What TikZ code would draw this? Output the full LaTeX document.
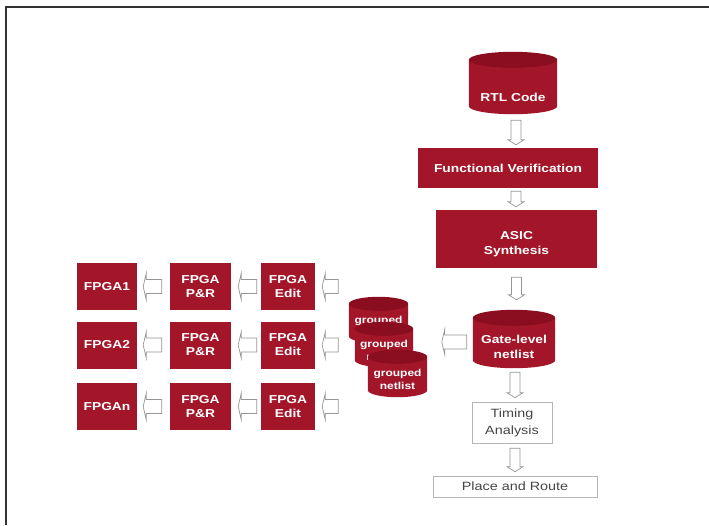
\documentclass[tikz,border=0pt]{standalone}
\usepackage{fontspec}
\setmainfont{Liberation Sans}[FakeStretch=1.2]
\usetikzlibrary{calc}
\definecolor{dred}{RGB}{163,22,42}
\definecolor{dredtop}{RGB}{138,14,32}
\definecolor{agray}{RGB}{150,150,150}
\definecolor{tgray}{RGB}{70,70,70}
\tikzset{
  redbox/.style={rectangle, fill=dred, text=white, font=\bfseries\fontsize{11.5}{14}\selectfont, align=center, inner sep=0pt},
  canbox/.style={rectangle, inner sep=0pt},
  cantext/.style={text=white, font=\bfseries\fontsize{11.5}{15}\selectfont, align=center, inner sep=0pt},
  gtext/.style={text=white, font=\bfseries\fontsize{10}{13}\selectfont, align=center, inner sep=0pt},
  whitebox/.style={rectangle, draw=agray!70, line width=0.6pt, fill=white, text=tgray, font=\fontsize{12}{17}\selectfont, align=center, inner sep=0pt},
  barrow/.style={draw=agray, line width=0.7pt, fill=white, line join=miter},
}
% can shape drawn over a named rectangle node: #1 = cap half height, #2 = node
\newcommand\candraw[2][8]{%
  \fill[dred] let \p1=(#2.north west), \p2=(#2.south east), \n1={(\x2-\x1)/2} in
    (\x1,{\y1-#1pt}) -- (\x1,{\y2+#1pt}) arc[start angle=180, end angle=360, x radius=\n1, y radius=#1pt]
    -- (\x2,{\y1-#1pt}) -- cycle;
  \fill[dredtop] let \p1=(#2.north west), \p2=(#2.south east), \n1={(\x2-\x1)/2} in
    ({(\x1+\x2)/2},{\y1-#1pt}) ellipse[x radius=\n1, y radius=#1pt];}
\newcommand\downarr[2]{\draw[barrow] let \p1=#1, \p2=#2 in
  (\x1-5pt,\y1) -- (\x1-5pt,\y2+5pt) -- (\x1-8pt,\y2+5pt) -- (\x1,\y2) -- (\x1+8pt,\y2+5pt) -- (\x1+5pt,\y2+5pt) -- (\x1+5pt,\y1) -- cycle;}
\newcommand\leftarr[2]{\draw[barrow] let \p1=#1, \p2=#2 in
  (\x2,\y2) -- (\x2+3pt,\y2+13pt) -- (\x2+3pt,\y2+7pt) -- (\x1,\y2+7pt) -- (\x1,\y2-7pt) -- (\x2+3pt,\y2-7pt) -- (\x2+3pt,\y2-13pt) -- cycle;}
\begin{document}
\begin{tikzpicture}[x=1pt,y=-1pt]
\useasboundingbox (0,0) rectangle (709,525);
\fill[white] (0,0) rectangle (709,525);
\draw[line width=1.5pt, black!80] (6,525) -- (6,7) -- (709,7);

% right column
\node[canbox, minimum width=88pt, minimum height=62pt] (rtl) at (513,83) {};
\candraw{rtl}
\node[cantext] (rtlt) at ($(rtl.center)+(0,14)$) {RTL Code};
\node[redbox, minimum width=180pt, minimum height=40pt] (fv) at (508,168) {Functional Verification};
\node[redbox, minimum width=161pt, minimum height=58pt] (asic) at (516.5,239) {};
\node[cantext] (asict) at ($(asic.center)+(0,5)$) {ASIC\\Synthesis};
\node[canbox, minimum width=82pt, minimum height=58pt] (gate) at (514,339) {};
\candraw{gate}
\node[cantext] (gatet) at ($(gate.center)+(0,8)$) {Gate-level\\netlist};
\node[whitebox, minimum width=80pt, minimum height=41pt] (timing) at (512,422.5) {Timing\\Analysis};
\node[whitebox, minimum width=164pt, minimum height=21pt] (par) at (515,486.5) {Place and Route};

% grouped netlists
\node[canbox, minimum width=59pt, minimum height=46pt] (g1) at (378.5,320) {};
\candraw[7]{g1}
\node[gtext] (g1t) at ($(g1.center)+(0,6)$) {grouped\\netlist};
\node[canbox, minimum width=58pt, minimum height=45pt] (g2) at (384,344.5) {};
\candraw[7]{g2}
\node[gtext] (g2t) at ($(g2.center)+(0,6)$) {grouped\\netlist};
\node[canbox, minimum width=59pt, minimum height=47pt] (g3) at (397.5,373.5) {};
\candraw[7]{g3}
\node[gtext] (g3t) at ($(g3.center)+(0,6)$) {grouped\\netlist};

% FPGA grid
\foreach \r/\y/\n in {1/286.5/FPGA1, 2/345/FPGA2, 3/406.5/FPGAn}{
  \node[redbox, minimum width=60pt, minimum height=47pt] (f\r) at (107,\y) {\n};
  \node[redbox, minimum width=61pt, minimum height=47pt] (p\r) at (200.5,\y) {FPGA\\P\&R};
  \node[redbox, minimum width=54pt, minimum height=47pt] (e\r) at (288,\y) {FPGA\\Edit};
  \coordinate (in\r) at ($(e\r.east)+(23,0)$);
  \leftarr{($(p\r.west)+(-8,0)$)}{($(f\r.east)+(6,0)$)}
  \leftarr{($(e\r.west)+(-4,0)$)}{($(p\r.east)+(7,0)$)}
  \leftarr{(in\r)}{($(e\r.east)+(7,0)$)}
}

% arrows right column
\downarr{($(rtl.south)+(3,6)$)}{($(fv.north)+(0,-3)$)}
\downarr{($(fv.south)+(8,3)$)}{($(asic.north)+(0,-3)$)}
\downarr{($(asic.south)+(0,9)$)}{($(gate.north)+(0,-10)$)}
\downarr{($(gate.south)+(1,4)$)}{($(timing.north)+(0,-4)$)}
\downarr{($(timing.south)+(3,5)$)}{($(par.north)+(0,-4)$)}
\leftarr{($(gate.west)+(-6,3)$)}{($(gate.west)+(-31,3)$)}
\end{tikzpicture}
\end{document}
